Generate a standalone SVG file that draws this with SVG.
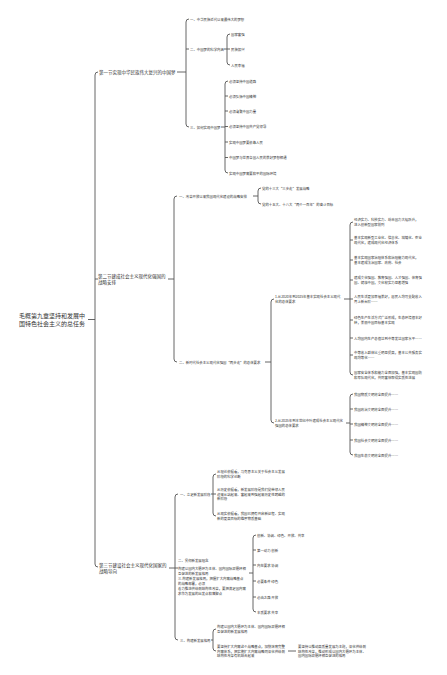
<svg xmlns="http://www.w3.org/2000/svg" width="447" height="675" viewBox="0 0 447 675">
<style>
.c{fill:none;stroke:#555;stroke-width:0.9}
.t{font-family:"Noto Sans CJK SC","Noto Sans",sans-serif;fill:#333;dominant-baseline:central}
.f6{font-size:6px}.f45{font-size:4.5px}.f3{font-size:3.4px}
</style>
<rect width="447" height="675" fill="#fff"/>
<g id="connectors" class="c">
<path d="M88,319.5H95M98,72Q95,72 95,75V564Q95,567 98,567M95,279H98"/>
<path d="M177,72H186M189,19Q186,19 186,22V124Q186,127 189,127M186,49H189"/>
<path d="M224,49H227M230,34Q227,34 227,37V62Q227,65 230,65M227,49H230"/>
<path d="M221,127H225M228,81Q225,81 225,84V170Q225,173 228,173M225,96H228M225,111H228M225,126.5H228M225,142H228M225,157.5H228"/>
<path d="M168,279H174M177,196Q174,196 174,199V359Q174,362 177,362"/>
<path d="M253,196H258M261,188Q258,188 258,191V201Q258,204 261,204"/>
<path d="M265,362H271M274,299Q271,299 271,302V420Q271,423 274,423"/>
<path d="M344,299H350M353,222Q350,222 350,225V372Q350,375 353,375M350,240H353M350,260H353M350,280H353M350,299H353M350,320H353M350,338H353M350,355H353"/>
<path d="M346,423H350M353,394Q350,394 350,397V452Q350,455 353,455M350,409H353M350,424H353M350,440H353"/>
<path d="M169,568H175M178,494Q175,494 175,497V637Q175,640 178,640M175,568H178"/>
<path d="M211,494H213M216,474Q213,474 213,477V513Q213,516 216,516M213,494H216"/>
<path d="M249,573H253M256,535Q253,535 253,538V609Q253,612 256,612M253,550H256M253,565H256M253,581H256M253,597H256"/>
<path d="M211,640H213M216,629Q213,629 213,632V648Q213,651 216,651"/>
<path d="M288,651H296"/>
</g>
<g id="root"><text class="t f6" x="19" y="315.2">毛概第九章坚持和发展中</text><text class="t f6" x="19" y="323.5">国特色社会主义的总任务</text></g>
<g id="s1"><text class="t f45" x="99" y="72">第一节实现中华民族伟大复兴的中国梦</text></g>
<g id="s1c1"><text class="t f3" x="190" y="19">一、中华民族近代以来最伟大的梦想</text></g>
<g id="s1c2"><text class="t f3" x="190" y="49">二、中国梦的科学内涵</text></g>
<g id="s1c2a"><text class="t f3" x="231" y="34">国家富强</text></g>
<g id="s1c2b"><text class="t f3" x="231" y="49">民族振兴</text></g>
<g id="s1c2c"><text class="t f3" x="231" y="65">人民幸福</text></g>
<g id="s1c3"><text class="t f3" x="190" y="127">三、如何实现中国梦</text></g>
<g id="s1c3a"><text class="t f3" x="229" y="81">必须坚持中国道路</text></g>
<g id="s1c3b"><text class="t f3" x="229" y="96">必须弘扬中国精神</text></g>
<g id="s1c3c"><text class="t f3" x="229" y="111">必须凝聚中国力量</text></g>
<g id="s1c3d"><text class="t f3" x="229" y="126.5">必须坚持中国共产党领导</text></g>
<g id="s1c3e"><text class="t f3" x="229" y="142">实现中国梦要依靠人民</text></g>
<g id="s1c3f"><text class="t f3" x="229" y="157.5">中国梦与世界各国人民的美好梦想相通</text></g>
<g id="s1c3g"><text class="t f3" x="229" y="173">实现中国梦需要和平的国际环境</text></g>
<g id="s2"><text class="t f45" x="98" y="275.8">第二节建成社会主义现代化强国的</text><text class="t f45" x="98" y="282.3">战略安排</text></g>
<g id="s2c1"><text class="t f3" x="179" y="196">一、改革开放以来我国现代化建设的战略安排</text></g>
<g id="s2c1a"><text class="t f3" x="262" y="188">党的十三大“三步走”发展战略</text></g>
<g id="s2c1b"><text class="t f3" x="262" y="204">党的十五大、十八大“两个一百年”的奋斗目标</text></g>
<g id="s2c2"><text class="t f3" x="179" y="362">二、新时代社会主义现代化强国“两步走”的总体要求</text></g>
<g id="s2c2a"><text class="t f3" x="275" y="296.8">1.从2020年到2035年基本实现社会主义现代</text><text class="t f3" x="275" y="301.4">化的总体要求</text></g>
<g id="a1"><text class="t f3" x="354" y="219.9">经济实力、科技实力、综合国力大幅跃升，</text><text class="t f3" x="354" y="224.2">进入创新型国家前列</text></g>
<g id="a2"><text class="t f3" x="354" y="237.9">基本实现新型工业化、信息化、城镇化、农业</text><text class="t f3" x="354" y="242.2">现代化，建成现代化经济体系</text></g>
<g id="a3"><text class="t f3" x="354" y="257.9">基本实现国家治理体系和治理能力现代化，</text><text class="t f3" x="354" y="262.2">基本建成法治国家、政府、社会</text></g>
<g id="a4"><text class="t f3" x="354" y="277.9">建成文化强国、教育强国、人才强国、体育强</text><text class="t f3" x="354" y="282.2">国、健康中国，文化软实力显著增强</text></g>
<g id="a5"><text class="t f3" x="354" y="296.9">人民生活更加幸福美好，居民人均可支配收入</text><text class="t f3" x="354" y="301.2">再上新台阶……</text></g>
<g id="a6"><text class="t f3" x="354" y="317.9">绿色生产生活方式广泛形成，生态环境根本好</text><text class="t f3" x="354" y="322.2">转，美丽中国目标基本实现</text></g>
<g id="a7"><text class="t f3" x="354" y="338">人均国内生产总值达到中等发达国家水平……</text></g>
<g id="a8"><text class="t f3" x="354" y="352.9">中等收入群体比重明显提高，基本公共服务实</text><text class="t f3" x="354" y="357.2">现均等化……</text></g>
<g id="a9"><text class="t f3" x="354" y="372.9">国家安全体系和能力全面加强，基本实现国防</text><text class="t f3" x="354" y="377.2">和军队现代化，共同富裕取得实质性进展</text></g>
<g id="s2c2b"><text class="t f3" x="275" y="420.7">2.从2035年到本世纪中叶建成社会主义现代化</text><text class="t f3" x="275" y="425.3">强国的总体要求</text></g>
<g id="b1"><text class="t f3" x="354" y="394">我国物质文明将全面提升……</text></g>
<g id="b2"><text class="t f3" x="354" y="409">我国政治文明将全面提升……</text></g>
<g id="b3"><text class="t f3" x="354" y="424">我国精神文明将全面提升……</text></g>
<g id="b4"><text class="t f3" x="354" y="440">我国社会文明将全面提升……</text></g>
<g id="b5"><text class="t f3" x="354" y="455">我国生态文明将全面提升……</text></g>
<g id="s3"><text class="t f45" x="99" y="564.8">第三节建设社会主义现代化国家的</text><text class="t f45" x="99" y="571.3">战略导向</text></g>
<g id="s3c1"><text class="t f3" x="180" y="494">一、立足新发展阶段</text></g>
<g id="s3c1a"><text class="t f3" x="217" y="471.9">从理论依据看，马克思主义关于社会主义发展</text><text class="t f3" x="217" y="476.2">阶段的科学论断</text></g>
<g id="s3c1b"><text class="t f3" x="217" y="489.7">从历史依据看，新发展阶段是我们党带领人民</text><text class="t f3" x="217" y="494">迎来从站起来、富起来到强起来历史性跨越的</text><text class="t f3" x="217" y="498.3">新阶段</text></g>
<g id="s3c1c"><text class="t f3" x="217" y="513.9">从现实依据看，我国已拥有开启新征程、实现</text><text class="t f3" x="217" y="518.2">新的更高目标的雄厚物质基础</text></g>
<g id="s3c2"><text class="t f3" x="178" y="560">二、贯彻新发展理念</text><text class="t f3" x="178" y="568">构建以国内大循环为主体、国内国际双循环相</text><text class="t f3" x="178" y="573">互促进的新发展格局</text><text class="t f3" x="178" y="578">三.构建新发展格局，把握扩大内需战略基点</text><text class="t f3" x="178" y="583">的战略部署，必须</text><text class="t f3" x="178" y="588">着力推进供给侧结构性改革，要把满足国内需</text><text class="t f3" x="178" y="593">求作为发展的出发点和落脚点</text></g>
<g id="s3c2a"><text class="t f3" x="257" y="535">创新、协调、绿色、开放、共享</text></g>
<g id="s3c2b"><text class="t f3" x="257" y="550">第一动力 创新</text></g>
<g id="s3c2c"><text class="t f3" x="257" y="565">内在要求 协调</text></g>
<g id="s3c2d"><text class="t f3" x="257" y="581">必要条件 绿色</text></g>
<g id="s3c2e"><text class="t f3" x="257" y="597">必由之路 开放</text></g>
<g id="s3c2f"><text class="t f3" x="257" y="612">本质要求 共享</text></g>
<g id="s3c3"><text class="t f3" x="180" y="640">三、构建新发展格局</text></g>
<g id="s3c3a"><text class="t f3" x="217" y="626.9">构建以国内大循环为主体、国内国际双循环相</text><text class="t f3" x="217" y="631.2">互促进的新发展格局</text></g>
<g id="s3c3b"><text class="t f3" x="217" y="646.7">要坚持扩大内需这个战略基点，加快培育完整</text><text class="t f3" x="217" y="651">内需体系，把实施扩大内需战略同深化供给侧</text><text class="t f3" x="217" y="655.3">结构性改革有机结合起来</text></g>
<g id="s3c3c"><text class="t f3" x="298" y="646.7">要坚持以推动高质量发展为主题，深化供给侧</text><text class="t f3" x="298" y="651">结构性改革，推动形成以国内大循环为主体、</text><text class="t f3" x="298" y="655.3">国内国际双循环相互促进的格局</text></g>
</svg>
